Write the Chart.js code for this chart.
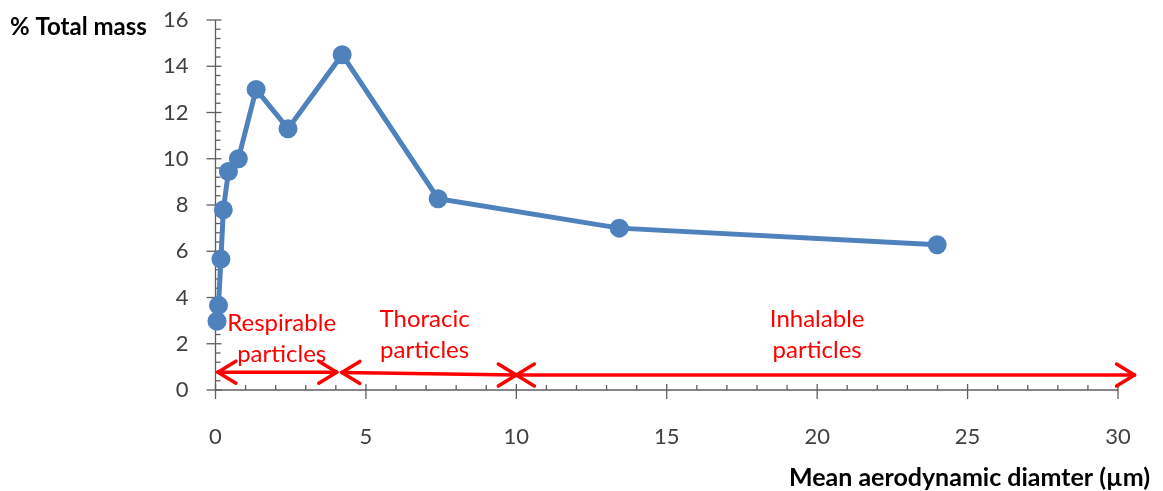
<!DOCTYPE html>
<html>
<head>
<meta charset="utf-8">
<script src="https://cdn.jsdelivr.net/npm/chart.js@4.4.1/dist/chart.umd.min.js"></script>
<style>
  html, body { margin: 0; padding: 0; background: #fff; }
</style>
</head>
<body>
<canvas id="massChart" width="1163" height="491"></canvas>
<script>
// mean aerodynamic diameter (µm) vs % of total mass
const diameters = [0.05, 0.1, 0.18, 0.26, 0.43, 0.76, 1.35, 2.41, 4.21, 7.4, 13.42, 23.99];
const massPct = [2.97, 3.66, 5.66, 7.79, 9.45, 10.0, 13.0, 11.3, 14.5, 8.27, 7.0, 6.28];

// particle size ranges shown as red double arrows
const rangeNames = [["Respirable", "particles"], ["Thoracic", "particles"], ["Inhalable", "particles"]];
const rangeFrom = [0.08, 4.2, 10.0];
const rangeTo = [4.03, 10.0, 30.55];
const rangeYFrom = [0.77, 0.76, 0.65];
const rangeYTo = [0.77, 0.65, 0.65];
const rangeLabelX = [2.2, 6.95, 20.0];
const rangeLabelY = [2.9, 3.05, 3.05];

const xTicks = [0, 5, 10, 15, 20, 25, 30];
const yTicks = [0, 2, 4, 6, 8, 10, 12, 14, 16];

const FONT = "Lato, 'Open Sans', sans-serif";
const AXIS_COLOR = "#5f5f5f";

function seg(ctx, x1, y1, x2, y2) {
    ctx.beginPath();
    ctx.moveTo(x1, y1);
    ctx.lineTo(x2, y2);
    ctx.stroke();
}

// axis lines with major/minor tick marks, range arrows and labels
const decor = {
    id: "decor",
    beforeDatasetsDraw(chart) {
        const { ctx, scales: { x, y } } = chart;
        const x0 = x.getPixelForValue(0);
        const y0 = y.getPixelForValue(0);
        ctx.save();
        ctx.strokeStyle = AXIS_COLOR;
        ctx.lineWidth = 1.3;
        seg(ctx, x0, y.getPixelForValue(16), x0, y0);
        seg(ctx, x0, y0, x.getPixelForValue(30), y0);
        for (let v = 0; v <= 30; v++) {
            const px = x.getPixelForValue(v);
            if (v % 5 === 0) seg(ctx, px, y0 - 6, px, y0 + 9);
            else seg(ctx, px, y0 - 5, px, y0);
        }
        for (let i = 0; i <= 40; i++) {
            const py = y.getPixelForValue(i * 0.4);
            if (i % 5 === 0) seg(ctx, x0 - 9, py, x0 + 6, py);
            else seg(ctx, x0, py, x0 + 5, py);
        }

        // red arrows
        ctx.strokeStyle = "#ff0000";
        ctx.lineWidth = 3.5;
        ctx.lineCap = "round";
        for (let i = 0; i < rangeNames.length; i++) {
            const ax = x.getPixelForValue(rangeFrom[i]);
            const ay = y.getPixelForValue(rangeYFrom[i]);
            const bx = x.getPixelForValue(rangeTo[i]);
            const by = y.getPixelForValue(rangeYTo[i]);
            seg(ctx, ax, ay, bx, by);
            seg(ctx, ax, ay, ax + 18, ay - 11);
            seg(ctx, ax, ay, ax + 18, ay + 11);
            seg(ctx, bx, by, bx - 18, by - 11);
            seg(ctx, bx, by, bx - 18, by + 11);
        }

        ctx.fillStyle = "#ff0000";
        ctx.font = "24px " + FONT;
        ctx.textAlign = "center";
        ctx.textBaseline = "middle";
        for (let i = 0; i < rangeNames.length; i++) {
            const lx = x.getPixelForValue(rangeLabelX[i]);
            const ly = y.getPixelForValue(rangeLabelY[i]);
            ctx.fillText(rangeNames[i][0], lx, ly);
            ctx.fillText(rangeNames[i][1], lx, ly + 31);
        }

        // axis titles
        ctx.fillStyle = "#000";
        ctx.font = "bold 24px " + FONT;
        ctx.textAlign = "left";
        ctx.fillText("% Total mass", 10, 27);
        ctx.textAlign = "right";
        ctx.font = "bold 25px " + FONT;
        ctx.fillText("Mean aerodynamic diamter (µm)", 1150, 478);
        ctx.restore();
    }
};

new Chart(document.getElementById("massChart").getContext("2d"), {
    type: "line",
    data: {
        datasets: [{
            data: diameters.map((d, i) => ({ x: d, y: massPct[i] })),
            borderColor: "#4f81bd",
            backgroundColor: "#4f81bd",
            borderWidth: 5,
            pointRadius: 9.5,
            pointHoverRadius: 9.5,
            pointBorderWidth: 0,
            tension: 0,
            clip: false
        }]
    },
    options: {
        responsive: false,
        animation: false,
        layout: { padding: { left: 0, right: 45, top: 20, bottom: 0 } },
        plugins: {
            legend: { display: false },
            tooltip: { enabled: false }
        },
        scales: {
            x: {
                type: "linear",
                min: 0,
                max: 30,
                afterFit: s => { s.height = 101; s.paddingLeft = 0; s.paddingRight = 0; },
                afterBuildTicks: s => { s.ticks = xTicks.map(v => ({ value: v })); },
                grid: { display: false },
                border: { display: false },
                ticks: {
                    padding: 26,
                    color: "#404040",
                    font: { family: FONT, size: 22 }
                }
            },
            y: {
                min: 0,
                max: 16,
                afterFit: s => { s.width = 215.5; s.paddingTop = 0; s.paddingBottom = 0; },
                afterBuildTicks: s => { s.ticks = yTicks.map(v => ({ value: v })); },
                grid: { display: false },
                border: { display: false },
                ticks: {
                    padding: 19,
                    color: "#404040",
                    font: { family: FONT, size: 22 }
                }
            }
        }
    },
    plugins: [decor]
});
</script>
</body>
</html>
